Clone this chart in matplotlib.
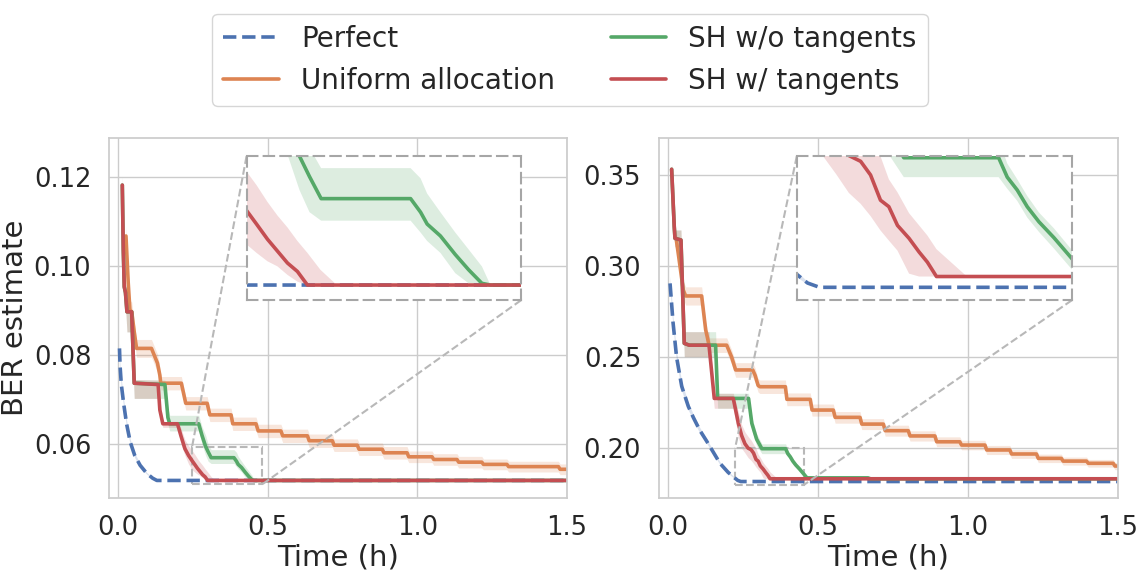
import numpy as np
import matplotlib.pyplot as plt
import seaborn as sns
from mpl_toolkits.axes_grid1.inset_locator import mark_inset

# ---------------- left panel data ----------------
a_perf_t = [0.004, 0.006, 0.010, 0.018, 0.028, 0.040, 0.055, 0.073, 0.095, 0.115, 0.129, 1.5]
a_perf_y = [0.0815, 0.0775, 0.0735, 0.0691, 0.0645, 0.0605, 0.0575, 0.0553, 0.0535, 0.0524, 0.0519, 0.0519]
a_perf_e = [0.0012, 0.0012, 0.0012, 0.0010, 0.0008, 0.0006, 0.0005, 0.0004, 0.0002, 0.0001, 0.0, 0.0]

a_unif_t = [0.0257, 0.0333, 0.0389, 0.045, 0.0533, 0.0611, 0.111, 0.131, 0.139, 0.142, 0.211, 0.2256,
            0.2973, 0.3062, 0.3773, 0.3829, 0.4607, 0.468, 0.544, 0.55, 0.6329, 0.6385, 0.7162, 0.7218,
            0.7996, 0.8052, 0.883, 0.8886, 0.966, 0.9716, 1.0496, 1.0552, 1.133, 1.1386, 1.216, 1.2216,
            1.300, 1.3056, 1.4723, 1.4779, 1.5]
a_unif_y = [0.1067, 0.0961, 0.0901, 0.0897, 0.0852, 0.0815, 0.0815, 0.0782, 0.0755, 0.0737, 0.0737, 0.0692,
            0.0692, 0.0666, 0.0666, 0.0646, 0.0646, 0.0630, 0.0630, 0.0619, 0.0619, 0.0608, 0.0608, 0.0598,
            0.0598, 0.0589, 0.0589, 0.0581, 0.0581, 0.0572, 0.0572, 0.0566, 0.0566, 0.0560, 0.0560, 0.0555,
            0.0555, 0.0550, 0.0550, 0.0544, 0.0544]
a_unif_e = [0.0022, 0.0022, 0.0022, 0.0022, 0.0022, 0.0020, 0.0020, 0.0020, 0.0018, 0.0015, 0.0015, 0.0015,
            0.0015, 0.0015, 0.0015, 0.0015, 0.0015, 0.0015, 0.0015, 0.0015, 0.0015, 0.0015, 0.0015, 0.0014,
            0.0014, 0.0014, 0.0014, 0.0014, 0.0014, 0.0013, 0.0013, 0.0013, 0.0013, 0.0013, 0.0013, 0.0012,
            0.0012, 0.0012, 0.0012, 0.0012, 0.0012]

a_sh_t = [0.0134, 0.0167, 0.020, 0.024, 0.029, 0.0447, 0.0533, 0.156, 0.166, 0.172, 0.269, 0.280,
          0.2922, 0.3007, 0.3106, 0.3869, 0.3954, 0.401, 0.4123, 0.425, 0.4364, 0.4477, 0.455, 1.5]
a_sh_y = [0.1181, 0.1036, 0.0953, 0.0940, 0.0897, 0.0897, 0.0737, 0.0734, 0.0660, 0.0646, 0.0646, 0.0620,
          0.0595, 0.0583, 0.0570, 0.0570, 0.0562, 0.0555, 0.0548, 0.0537, 0.0528, 0.0520, 0.0519, 0.0519]
a_sh_hi = [0.1200, 0.1060, 0.0975, 0.0960, 0.0900, 0.0900, 0.0745, 0.0744, 0.0680, 0.0665, 0.0665, 0.0640,
           0.0620, 0.0600, 0.0588, 0.0588, 0.0582, 0.0573, 0.0562, 0.0550, 0.0540, 0.0530, 0.0519, 0.0519]
a_sh_lo = [0.1160, 0.1010, 0.0930, 0.0910, 0.0852, 0.0852, 0.0703, 0.0703, 0.0645, 0.0630, 0.0630, 0.0600,
           0.0575, 0.0562, 0.0557, 0.0557, 0.0550, 0.0545, 0.0538, 0.0526, 0.0520, 0.0519, 0.0519, 0.0519]

a_tan_t = [0.0134, 0.0167, 0.020, 0.024, 0.029, 0.0447, 0.0533, 0.1333, 0.139, 0.149, 0.198, 0.210,
           0.223, 0.235, 0.247, 0.2555, 0.2649, 0.2734, 0.2819, 0.2904, 0.2989, 0.310, 0.324, 1.5]
a_tan_y = [0.1181, 0.1036, 0.0953, 0.0940, 0.0897, 0.0897, 0.0737, 0.0734, 0.0677, 0.0646, 0.0646, 0.0618,
           0.0590, 0.0575, 0.0563, 0.0555, 0.0546, 0.0539, 0.0532, 0.0527, 0.0519, 0.0519, 0.0519, 0.0519]
a_tan_hi = [0.1200, 0.1060, 0.0975, 0.0960, 0.0900, 0.0900, 0.0745, 0.0744, 0.0700, 0.0650, 0.0650, 0.0635,
            0.0610, 0.0597, 0.0586, 0.0578, 0.0568, 0.0560, 0.0553, 0.0545, 0.0538, 0.0528, 0.0519, 0.0519]
a_tan_lo = [0.1160, 0.1010, 0.0930, 0.0910, 0.0852, 0.0852, 0.0703, 0.0703, 0.0665, 0.0638, 0.0638, 0.0600,
            0.0575, 0.0556, 0.0543, 0.0538, 0.0533, 0.0530, 0.0525, 0.0521, 0.0519, 0.0519, 0.0519, 0.0519]

# ---------------- right panel data ----------------
b_perf_t = [0.006, 0.016, 0.0278, 0.045, 0.067, 0.0835, 0.105, 0.128, 0.150, 0.1726, 0.200, 0.223, 0.232, 0.242, 1.5]
b_perf_y = [0.2905, 0.2690, 0.2500, 0.2340, 0.2230, 0.2170, 0.2100, 0.2040, 0.1980, 0.1918, 0.1868, 0.1836,
            0.1824, 0.1818, 0.1818]
b_perf_e = [0.0040, 0.0030, 0.0028, 0.0025, 0.0020, 0.0018, 0.0015, 0.0012, 0.0010, 0.0008, 0.0006, 0.0004,
            0.0002, 0.0, 0.0]

b_unif_t = [0.027, 0.035, 0.045, 0.050, 0.058, 0.1115, 0.125, 0.130, 0.136, 0.195, 0.211, 0.225, 0.282, 0.290,
            0.300, 0.306, 0.391, 0.396, 0.474, 0.480, 0.551, 0.557, 0.640, 0.646, 0.718, 0.724, 0.801, 0.807,
            0.890, 0.896, 0.973, 0.979, 1.057, 1.063, 1.140, 1.146, 1.229, 1.235, 1.312, 1.318, 1.396, 1.402,
            1.485, 1.491, 1.5]
b_unif_y = [0.3143, 0.3050, 0.2930, 0.2869, 0.2836, 0.2836, 0.2649, 0.2613, 0.2566, 0.2566, 0.2503, 0.2430,
            0.2430, 0.2400, 0.2345, 0.2338, 0.2338, 0.2269, 0.2269, 0.2210, 0.2210, 0.2170, 0.2170, 0.2133,
            0.2133, 0.2097, 0.2097, 0.2068, 0.2068, 0.2036, 0.2036, 0.2018, 0.2018, 0.1991, 0.1991, 0.1969,
            0.1969, 0.1945, 0.1945, 0.1930, 0.1930, 0.1918, 0.1918, 0.1903, 0.1903]
b_unif_e = [0.0050, 0.0050, 0.0050, 0.0050, 0.0050, 0.0050, 0.0045, 0.0045, 0.0040, 0.0040, 0.0040, 0.0040,
            0.0040, 0.0040, 0.0037, 0.0037, 0.0037, 0.0035, 0.0035, 0.0033, 0.0033, 0.0032, 0.0032, 0.0030,
            0.0030, 0.0030, 0.0030, 0.0028, 0.0028, 0.0027, 0.0027, 0.0026, 0.0026, 0.0025, 0.0025, 0.0024,
            0.0024, 0.0023, 0.0023, 0.0022, 0.0022, 0.0021, 0.0021, 0.0020, 0.0020]

b_sh_t = [0.0113, 0.020, 0.0225, 0.0424, 0.0535, 0.070, 0.158, 0.165, 0.268, 0.279, 0.295, 0.3125, 0.3918,
          0.399, 0.4074, 0.4157, 0.4255, 0.438, 0.453, 0.463, 0.667, 0.675, 1.5]
b_sh_y = [0.3531, 0.3216, 0.3152, 0.3143, 0.2576, 0.2566, 0.2566, 0.2274, 0.2274, 0.2137, 0.2050, 0.1998,
          0.1998, 0.1971, 0.1953, 0.1930, 0.1909, 0.1887, 0.1858, 0.1838, 0.1838, 0.1833, 0.1833]
b_sh_hi = [0.3560, 0.3250, 0.3198, 0.3198, 0.2640, 0.2640, 0.2640, 0.2302, 0.2302, 0.2170, 0.2080, 0.2025,
           0.2025, 0.1990, 0.1968, 0.1945, 0.1922, 0.1900, 0.1870, 0.1845, 0.1845, 0.1833, 0.1833]
b_sh_lo = [0.3500, 0.3180, 0.3106, 0.3106, 0.2503, 0.2503, 0.2503, 0.2220, 0.2220, 0.2100, 0.2015, 0.1971,
           0.1971, 0.1955, 0.1938, 0.1915, 0.1895, 0.1872, 0.1843, 0.1830, 0.1830, 0.1833, 0.1833]

b_tan_t = [0.0113, 0.020, 0.0225, 0.0424, 0.0535, 0.070, 0.136, 0.1536, 0.217, 0.234, 0.245, 0.256, 0.2666,
           0.2764, 0.2847, 0.293, 0.300, 0.3072, 0.3169, 0.3253, 0.3322, 0.3398, 0.3653, 1.5]
b_tan_y = [0.3531, 0.3216, 0.3152, 0.3143, 0.2576, 0.2566, 0.2566, 0.2274, 0.2274, 0.2137, 0.2070, 0.2025,
           0.2001, 0.1993, 0.1974, 0.1939, 0.1930, 0.1904, 0.1886, 0.1867, 0.1853, 0.1833, 0.1833, 0.1833]
b_tan_hi = [0.3560, 0.3250, 0.3198, 0.3198, 0.2640, 0.2640, 0.2640, 0.2302, 0.2302, 0.2200, 0.2130, 0.2090,
            0.2065, 0.2045, 0.2022, 0.2000, 0.1968, 0.1950, 0.1921, 0.1904, 0.1890, 0.1871, 0.1833, 0.1833]
b_tan_lo = [0.3500, 0.3180, 0.3106, 0.3106, 0.2503, 0.2503, 0.2503, 0.2220, 0.2220, 0.2060, 0.2000, 0.1975,
            0.1949, 0.1934, 0.1917, 0.1897, 0.1883, 0.1869, 0.1837, 0.1833, 0.1833, 0.1833, 0.1833, 0.1833]

labels = ['Perfect', 'Uniform allocation', 'SH w/o tangents', 'SH w/ tangents']


def draw(ax, panel, lw=2.6):
    blue, orange, green, red = sns.color_palette('deep')[:4]
    for (t, y, lo, hi), col, ls, lab in zip(panel, [blue, orange, green, red],
                                            ['--', '-', '-', '-'], labels):
        ax.fill_between(t, lo, hi, color=col, alpha=0.2, linewidth=0)
        ax.plot(t, y, color=col, ls=ls, lw=lw, label=lab)


def sym(t, y, e):
    y = np.array(y)
    e = np.array(e)
    return (t, y, y - e, y + e)


def main():
    sns.set_theme(style='whitegrid')
    plt.rcParams['font.family'] = ['DejaVu Sans']
    plt.rcParams['xtick.major.pad'] = 6
    plt.rcParams['ytick.major.pad'] = 7
    plt.rcParams['axes.edgecolor'] = '0.8'

    left = [sym(a_perf_t, a_perf_y, a_perf_e), sym(a_unif_t, a_unif_y, a_unif_e),
            (a_sh_t, a_sh_y, a_sh_lo, a_sh_hi), (a_tan_t, a_tan_y, a_tan_lo, a_tan_hi)]
    right = [sym(b_perf_t, b_perf_y, b_perf_e), sym(b_unif_t, b_unif_y, b_unif_e),
             (b_sh_t, b_sh_y, b_sh_lo, b_sh_hi), (b_tan_t, b_tan_y, b_tan_lo, b_tan_hi)]

    fig = plt.figure(figsize=(11.4, 5.74), dpi=100)
    ax1 = fig.add_axes([0.0959, 0.1319, 0.4012, 0.6272])
    ax2 = fig.add_axes([0.5783, 0.1319, 0.4021, 0.6272])

    setups = [(ax1, left, (0.0479, 0.1286), [0.06, 0.08, 0.10, 0.12], (0.247, 0.481), (0.0510, 0.0595)),
              (ax2, right, (0.1726, 0.3701), [0.20, 0.25, 0.30, 0.35], (0.223, 0.453), (0.1800, 0.2000))]

    for ax, panel, ylim, yticks, zx, zy in setups:
        draw(ax, panel)
        ax.set_xlim(-0.03, 1.5)
        ax.set_ylim(*ylim)
        ax.set_xticks([0.0, 0.5, 1.0, 1.5])
        ax.set_yticks(yticks)
        ax.tick_params(labelsize=18.5)
        ax.set_xlabel('Time (h)', fontsize=21, labelpad=2)

        # zoomed inset
        axins = ax.inset_axes([0.3, 0.55, 0.6, 0.4])
        draw(axins, panel)
        axins.set_xlim(*zx)
        axins.set_ylim(*zy)
        axins.set_xticks([])
        axins.set_yticks([])
        axins.grid(False)
        axins.set_facecolor('white')
        for s in axins.spines.values():
            s.set_linestyle((0, (5, 3)))
            s.set_edgecolor('0.65')
            s.set_linewidth(1.5)
        mark_inset(ax, axins, loc1=2, loc2=4, fc='none', ec='0.72', ls='--', lw=1.5)

    ax1.set_ylabel('BER estimate', fontsize=21, labelpad=3)

    handles, labs = ax1.get_legend_handles_labels()
    fig.legend(handles, labs, loc='center', bbox_to_anchor=(0.5, 0.8955), ncol=2, fontsize=20,
               frameon=True, edgecolor='0.8')

    plt.savefig('out.png', dpi=100)


if __name__ == '__main__':
    main()
